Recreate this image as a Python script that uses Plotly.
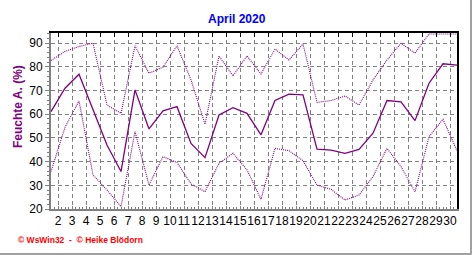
import plotly.graph_objects as go

days = list(range(1, 31))
# points are plotted at the middle of each day
x_pos = [d + 0.5 for d in days]

hum_max = [82.7, 86.5, 88.6, 90.0, 63.9, 60.4, 88.9, 77.3, 79.9, 88.9,
           74.5, 55.8, 84.6, 76.2, 84.6, 77.0, 87.5, 82.9, 89.7, 65.0,
           65.8, 67.7, 63.9, 74.5, 82.9, 90.0, 85.8, 93.9, 93.9, 93.9]
hum_mean = [61.1, 71.0, 76.9, 62.2, 47.0, 35.8, 70.3, 53.8, 61.4, 63.2,
            47.7, 41.7, 59.7, 62.8, 60.4, 51.3, 65.8, 68.5, 68.2, 45.3,
            44.9, 43.5, 45.2, 52.0, 65.8, 65.2, 57.3, 73.1, 81.3, 80.7]
hum_min = [35.8, 54.5, 65.6, 34.4, 28.0, 21.0, 52.7, 30.1, 42.1, 39.6,
           30.6, 27.3, 39.3, 43.5, 36.5, 24.1, 45.6, 44.6, 40.4, 30.1,
           28.3, 23.8, 25.9, 33.7, 45.6, 37.9, 27.3, 50.5, 57.9, 44.6]

tick_days = list(range(2, 31))
tick_text = [str(d) for d in tick_days]
y_ticks = list(range(20, 100, 10))

title_text = "April 2020"
y_title = "Feuchte A. (%)"
credit = "\u00a9 WsWin32  -  \u00a9 Heike Bl\u00f6dorn"

purple = "#800080"
grid = "#808080"
FONT = "Liberation Sans, Arial, sans-serif"

fig = go.Figure()
fig.add_trace(go.Scatter(x=x_pos, y=hum_max, mode="lines",
                         line=dict(color=purple, width=1.1, dash="1px,1px")))
fig.add_trace(go.Scatter(x=x_pos, y=hum_min, mode="lines",
                         line=dict(color=purple, width=1.1, dash="1px,1px")))
fig.add_trace(go.Scatter(x=x_pos, y=hum_mean, mode="lines",
                         line=dict(color=purple, width=1.3)))
# invisible trace to activate top/right axes
fig.add_trace(go.Scatter(x=[x_pos[0]], y=[hum_mean[0]], xaxis="x2", yaxis="y2",
                         mode="markers", marker=dict(opacity=0), hoverinfo="skip"))

fig.update_layout(
    width=472, height=255,
    margin=dict(l=51, r=15, t=33, b=46),
    paper_bgcolor="white", plot_bgcolor="white",
    showlegend=False,
    font=dict(family=FONT, size=12, color="black"),
    xaxis=dict(range=[1.5, 30.5], tickvals=tick_days, ticktext=tick_text,
               tickangle=0, showgrid=True, gridcolor=grid, gridwidth=1,
               griddash="4px,3px", showline=True, linecolor="#808080",
               linewidth=2, ticks="inside", ticklen=3, tickcolor="#808080",
               zeroline=False, tickfont=dict(size=12),
               minor=dict(dtick=0.25, tick0=1.5, ticks="inside", ticklen=2,
                          tickcolor="#808080", showgrid=False)),
    yaxis=dict(range=[20, 94.3], tickvals=y_ticks, showgrid=True,
               gridcolor=grid, gridwidth=1, griddash="4px,3px",
               showline=True, linecolor="#808080", linewidth=2,
               ticks="outside", ticklen=4, tickcolor="#808080",
               zeroline=False, tickfont=dict(size=12),
               minor=dict(dtick=2, ticks="outside", ticklen=2,
                          tickcolor="#808080", showgrid=False)),
    xaxis2=dict(overlaying="x", side="top", matches="x", range=[1.5, 30.5],
                tickvals=tick_days, showticklabels=False, showgrid=False,
                showline=True, linecolor="black", linewidth=2,
                ticks="inside", ticklen=4, tickcolor="black", zeroline=False),
    yaxis2=dict(overlaying="y", side="right", range=[20, 94.3],
                showticklabels=False, showgrid=False, showline=True,
                linecolor="black", linewidth=2, ticks="", zeroline=False),
)

fig.add_annotation(text="<b>" + title_text + "</b>", xref="paper", yref="paper",
                   x=0.458, y=1.08, xanchor="center", yanchor="middle",
                   showarrow=False,
                   font=dict(family=FONT, size=12, color="#0000ff"))
fig.add_annotation(text="<b>" + y_title + "</b>", xref="paper", yref="paper",
                   x=-0.081, y=0.58, xanchor="center", yanchor="middle",
                   textangle=-90, showarrow=False,
                   font=dict(family=FONT, size=12, color=purple))
fig.add_annotation(text="<b>" + credit + "</b>", xref="paper", yref="paper",
                   x=-0.086, y=-0.176, xanchor="left", yanchor="middle",
                   showarrow=False,
                   font=dict(family=FONT, size=8.5, color="#ff0000"))

fig.add_shape(type="line", xref="paper", yref="paper", x0=1.0345, x1=1.0345,
              y0=-0.26, y1=1.19, line=dict(color="#a0a0a0", width=2))
fig.add_shape(type="line", xref="paper", yref="paper", x0=-0.13, x1=1.0345,
              y0=-0.2557, y1=-0.2557, line=dict(color="#a0a0a0", width=2))

fig.write_html("out.html")
